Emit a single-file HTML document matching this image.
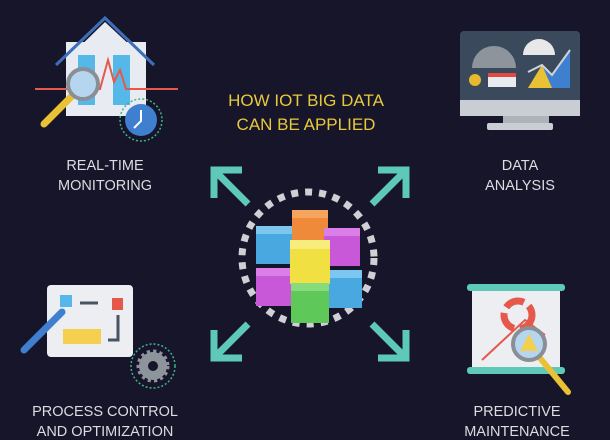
<!DOCTYPE html>
<html><head><style>
html,body{margin:0;padding:0;background:#16152a;}
svg{display:block}
text{font-family:"Liberation Sans",sans-serif;}
</style></head><body>
<svg width="610" height="440" viewBox="0 0 610 440">
<rect width="610" height="440" fill="#16152a"/>
<!-- title -->
<text x="306" y="106" font-size="17" fill="#e9c93c" text-anchor="middle">HOW IOT BIG DATA</text>
<text x="306" y="130" font-size="17" fill="#e9c93c" text-anchor="middle">CAN BE APPLIED</text>
<!-- labels -->
<g font-size="14.5" fill="#dcdce0" text-anchor="middle">
<text x="105" y="170">REAL-TIME</text><text x="105" y="190">MONITORING</text>
<text x="520" y="170">DATA</text><text x="520" y="190">ANALYSIS</text>
<text x="105" y="416">PROCESS CONTROL</text><text x="105" y="436">AND OPTIMIZATION</text>
<text x="517" y="416">PREDICTIVE</text><text x="517" y="436">MAINTENANCE</text>
</g>
<!-- arrows -->
<g stroke="#5ec9b6" stroke-width="7" fill="none">
<path d="M248 204 L216 172 M214 198 V170 H242"/>
<path d="M372 204 L404 172 M406 198 V170 H378"/>
<path d="M248 324 L216 356 M214 330 V358 H242"/>
<path d="M372 324 L404 356 M406 330 V358 H378"/>
</g>
<!-- dotted circle -->
<circle cx="308" cy="258" r="66" fill="none" stroke="#cfcfd4" stroke-width="7" stroke-dasharray="7 7"/>
<!-- cubes -->
<g>
<rect x="292" y="210" width="36" height="34" fill="#ef8a3a"/><rect x="292" y="210" width="36" height="8" fill="#f5a55e"/>
<rect x="256" y="226" width="36" height="38" fill="#4aa8e0"/><rect x="256" y="226" width="36" height="8" fill="#7cc7ef"/>
<rect x="324" y="228" width="36" height="38" fill="#c858d8"/><rect x="324" y="228" width="36" height="8" fill="#dc7ee8"/>
<rect x="256" y="268" width="36" height="38" fill="#c858d8"/><rect x="256" y="268" width="36" height="8" fill="#dc7ee8"/>
<rect x="326" y="270" width="36" height="38" fill="#4aa8e0"/><rect x="326" y="270" width="36" height="8" fill="#7cc7ef"/>
<rect x="290" y="240" width="40" height="44" fill="#f0e042"/><rect x="290" y="240" width="40" height="9" fill="#f7ed7c"/>
<rect x="291" y="283" width="38" height="40" fill="#5ec858"/><rect x="291" y="283" width="38" height="8" fill="#86dc7c"/>
</g>
<!-- house -->
<g>
<rect x="66" y="42" width="80" height="74" fill="#e8ecf2"/>
<path d="M56 65 L105 18 L154 65" stroke="#3d6fb8" stroke-width="3" fill="none"/>
<path d="M66 60 L105 22 L146 60 Z" fill="#e8ecf2"/>
<rect x="78" y="55" width="17" height="50" fill="#55b8e8"/><rect x="113" y="55" width="17" height="50" fill="#55b8e8"/>
<path d="M35 89 H100 L108 60 L114 82 L120 70 L126 89 H178" stroke="#e5584a" stroke-width="2" fill="none"/>
<line x1="72" y1="96" x2="44" y2="124" stroke="#e8c234" stroke-width="7" stroke-linecap="round"/>
<circle cx="83" cy="84" r="15" fill="#b5d6ee" stroke="#8a8e96" stroke-width="4"/>
<circle cx="141" cy="120" r="21" fill="none" stroke="#3ab58a" stroke-width="1.5" stroke-dasharray="2 2"/>
<circle cx="141" cy="120" r="16" fill="#3f7fd0"/>
<path d="M141 110 V121 L134 128" stroke="#fff" stroke-width="2" fill="none"/>
</g>
<!-- monitor -->
<g>
<rect x="460" y="31" width="120" height="85" rx="4" fill="#3a4a5c"/>
<rect x="460" y="100" width="120" height="16" fill="#c9ced4"/>
<rect x="503" y="116" width="46" height="8" fill="#aeb3ba"/>
<rect x="487" y="123" width="66" height="7" rx="2" fill="#c9ced4"/>
<path d="M472 68 A22 22 0 0 1 516 68 Z" fill="#8e949c"/>
<path d="M523 55 A16 16 0 0 1 555 55 Z" fill="#e8e8ea"/>
<circle cx="475" cy="80" r="6" fill="#e8b830"/>
<rect x="488" y="73" width="28" height="14" fill="#e9ecef"/><rect x="488" y="73" width="28" height="4" fill="#e04a40"/>
<path d="M528 88 L542 65 L552 75 L570 50 L570 88 Z" fill="#3f7fd0"/>
<path d="M528 88 L542 65 L552 88 Z" fill="#e8c234"/>
<path d="M528 72 L542 65 L552 75 L570 50" stroke="#d0d4da" stroke-width="2" fill="none"/>
</g>
<!-- process board -->
<g>
<rect x="47" y="285" width="86" height="72" rx="4" fill="#eceef2"/>
<rect x="60" y="295" width="12" height="12" fill="#55b8e8"/>
<rect x="112" y="298" width="11" height="12" fill="#e5584a"/>
<path d="M80 303 H98" stroke="#4a5460" stroke-width="3"/>
<path d="M118 315 V340 H108" stroke="#4a5460" stroke-width="3" fill="none"/>
<rect x="63" y="329" width="38" height="15" fill="#f5cf4e"/>
<line x1="24" y1="350" x2="62" y2="312" stroke="#3f7fd0" stroke-width="7" stroke-linecap="round"/>
<circle cx="153" cy="366" r="22" fill="none" stroke="#3ab58a" stroke-width="1.5" stroke-dasharray="2 2"/>
<circle cx="153" cy="366" r="14" fill="#8e949c" stroke="#8e949c" stroke-width="5" stroke-dasharray="3 3"/>
<circle cx="153" cy="366" r="5" fill="#16152a"/>
</g>
<!-- predictive board -->
<g>
<rect x="472" y="288" width="88" height="84" fill="#eceef2"/>
<rect x="467" y="284" width="98" height="7" rx="3" fill="#5ec9b6"/>
<rect x="467" y="367" width="98" height="7" rx="3" fill="#5ec9b6"/>
<circle cx="518" cy="315" r="14" fill="none" stroke="#e5584a" stroke-width="7" stroke-dasharray="20 6"/>
<path d="M482 360 L525 320 L545 335" stroke="#e5584a" stroke-width="2" fill="none"/>
<line x1="540" y1="358" x2="568" y2="392" stroke="#e8c234" stroke-width="6" stroke-linecap="round"/>
<circle cx="529" cy="344" r="16" fill="#b5d6ee" stroke="#8a8e96" stroke-width="4"/>
<path d="M529 334 L538 351 H520 Z" fill="#f5cf4e"/>
</g>
</svg>
</body></html>
